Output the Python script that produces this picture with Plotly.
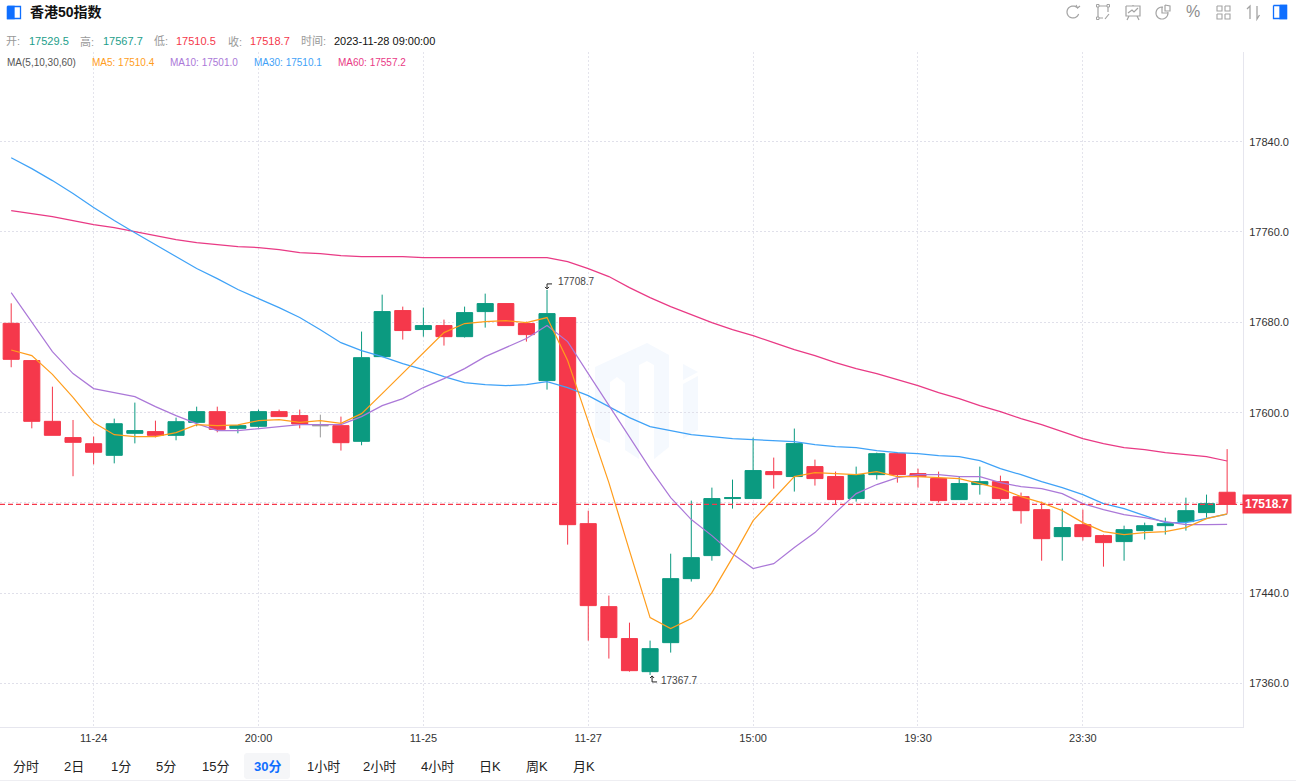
"""
Recreates the Hang Seng 50 index 30-minute candlestick chart
"""
import numpy as np
import plotly.graph_objects as go

W, H = 1296, 781
PLOT_L, PLOT_R, PLOT_T, PLOT_B = 0, 1243, 52, 727

opens = [17679.1, 17646.1, 17592.3, 17577.9, 17572.5, 17562.2, 17581.7, 17583.2, 17579.9, 17591.4,
         17600.9, 17586.1, 17587.9, 17600.9, 17597.4, 17588.5, 17588.5, 17574.6, 17649.6, 17690.4,
         17673.6, 17677.1, 17667.3, 17689.5, 17696.6, 17678.9, 17628.4, 17684.2, 17501.7, 17428.2,
         17399.9, 17370.6, 17396.3, 17453.0, 17473.4, 17523.9, 17523.9, 17547.8, 17543.4, 17552.2,
         17543.4, 17523.9, 17545.1, 17563.7, 17546.0, 17541.6, 17523.0, 17536.3, 17538.9, 17525.6,
         17514.1, 17490.2, 17500.8, 17491.1, 17485.8, 17495.5, 17499.9, 17503.5, 17511.5, 17529.5]
highs = [17696.8, 17646.1, 17623.0, 17593.5, 17578.8, 17594.7, 17608.9, 17592.9, 17595.6, 17605.3,
         17605.3, 17588.5, 17602.7, 17602.7, 17602.7, 17598.2, 17596.5, 17671.8, 17704.5, 17693.9,
         17693.0, 17682.4, 17693.9, 17705.4, 17696.6, 17680.6, 17708.7, 17684.2, 17513.2, 17438.0,
         17414.0, 17398.1, 17475.1, 17522.1, 17533.6, 17540.7, 17577.9, 17560.2, 17585.9, 17558.4,
         17547.8, 17552.2, 17564.6, 17564.6, 17550.4, 17547.8, 17543.4, 17552.2, 17544.2, 17529.2,
         17521.2, 17515.0, 17514.1, 17492.0, 17499.9, 17502.6, 17507.0, 17524.7, 17527.4, 17567.7]
lows = [17640.2, 17586.1, 17579.9, 17543.7, 17554.2, 17555.1, 17572.8, 17578.1, 17575.5, 17587.9,
        17582.6, 17581.7, 17586.7, 17596.5, 17586.1, 17578.1, 17566.4, 17571.1, 17649.6, 17664.7,
        17667.3, 17659.4, 17666.5, 17675.3, 17677.1, 17662.9, 17620.4, 17483.1, 17398.1, 17382.2,
        17370.6, 17367.7, 17387.5, 17450.4, 17468.9, 17515.0, 17523.9, 17532.7, 17530.1, 17535.4,
        17518.6, 17521.2, 17540.7, 17538.0, 17533.6, 17520.3, 17523.0, 17527.4, 17522.1, 17501.7,
        17468.9, 17468.9, 17486.7, 17463.6, 17468.9, 17487.6, 17492.0, 17495.5, 17507.0, 17510.5]
closes = [17647.2, 17592.3, 17579.9, 17573.7, 17564.9, 17590.2, 17584.1, 17579.9, 17592.0, 17600.9,
          17585.2, 17588.5, 17600.9, 17596.5, 17590.0, 17588.5, 17573.4, 17648.7, 17689.5, 17672.7,
          17677.1, 17667.3, 17688.6, 17696.6, 17677.1, 17669.1, 17687.7, 17500.8, 17429.1, 17400.8,
          17371.5, 17391.0, 17453.0, 17471.6, 17523.9, 17524.7, 17548.7, 17545.1, 17572.6, 17541.6,
          17523.0, 17545.1, 17563.7, 17545.1, 17543.4, 17522.1, 17537.2, 17538.9, 17523.9, 17513.2,
          17488.4, 17498.2, 17490.2, 17484.9, 17496.4, 17499.9, 17501.7, 17513.2, 17519.4, 17518.7]

ma5 = [17655.5, 17650.5, 17633.9, 17613.6, 17591.2, 17580.5, 17578.8, 17578.8, 17582.3, 17589.4,
       17588.5, 17589.1, 17592.9, 17593.8, 17591.4, 17592.9, 17590.6, 17599.1, 17616.9, 17634.6,
       17652.5, 17670.9, 17678.9, 17680.6, 17681.5, 17679.7, 17684.2, 17646.1, 17592.0, 17538.0,
       17477.8, 17418.5, 17408.7, 17417.6, 17440.6, 17471.6, 17504.4, 17523.9, 17543.4, 17546.9,
       17546.0, 17545.1, 17547.8, 17543.4, 17543.4, 17542.5, 17541.6, 17537.1, 17532.7, 17525.6,
       17520.3, 17513.2, 17502.6, 17494.6, 17492.0, 17493.8, 17494.6, 17498.2, 17506.1, 17510.4]
ma10 = [17706.3, 17679.7, 17654.0, 17634.6, 17621.3, 17617.7, 17614.2, 17605.3, 17597.4, 17590.3,
        17584.1, 17584.1, 17585.9, 17587.6, 17589.4, 17589.4, 17589.4, 17596.5, 17606.2, 17612.4,
        17622.2, 17630.1, 17639.0, 17649.6, 17657.6, 17665.6, 17677.1, 17662.9, 17634.6, 17606.2,
        17577.9, 17550.4, 17524.8, 17505.3, 17491.1, 17475.1, 17461.9, 17466.3, 17480.5, 17493.8,
        17511.5, 17528.3, 17536.3, 17542.5, 17545.1, 17545.1, 17543.4, 17543.4, 17538.0, 17534.5,
        17532.7, 17528.3, 17519.4, 17514.1, 17509.7, 17507.0, 17503.5, 17500.8, 17500.8, 17501.0]
ma30 = [17825.8, 17816.1, 17805.5, 17794.0, 17781.6, 17770.1, 17759.4, 17748.8, 17738.2, 17727.6,
        17718.7, 17709.0, 17701.0, 17693.0, 17684.2, 17673.5, 17662.0, 17654.9, 17649.6, 17643.4,
        17638.1, 17631.9, 17626.6, 17624.8, 17623.9, 17624.8, 17627.5, 17622.2, 17615.1, 17605.3,
        17595.6, 17587.6, 17584.1, 17580.5, 17578.8, 17577.0, 17576.1, 17575.2, 17574.3, 17571.7,
        17569.9, 17569.0, 17566.4, 17564.6, 17563.7, 17561.9, 17561.1, 17557.5, 17550.4, 17545.1,
        17538.9, 17533.6, 17527.4, 17519.4, 17515.0, 17508.8, 17502.6, 17502.6, 17506.1, 17510.1]
ma60 = [17778.9, 17776.3, 17773.6, 17770.1, 17766.5, 17763.9, 17760.3, 17756.8, 17753.2, 17750.6,
        17748.8, 17747.0, 17746.2, 17744.4, 17741.7, 17740.8, 17739.1, 17738.2, 17738.2, 17738.2,
        17737.3, 17737.3, 17737.3, 17737.3, 17737.3, 17737.3, 17737.3, 17733.8, 17727.6, 17720.5,
        17710.7, 17701.9, 17693.9, 17686.8, 17679.7, 17673.5, 17668.2, 17662.0, 17655.8, 17650.5,
        17644.3, 17639.0, 17634.6, 17629.2, 17623.9, 17617.7, 17612.4, 17606.2, 17600.9, 17594.7,
        17589.4, 17583.2, 17577.0, 17572.6, 17569.0, 17567.3, 17564.6, 17562.8, 17561.1, 17557.2]

price_ticks = [17360, 17440, 17520, 17600, 17680, 17760, 17840]
# the 17520 label sits under the last price tag, only its grid line shows
price_labels = ["17360.0", "17440.0", "", "17600.0", "17680.0", "17760.0", "17840.0"]
time_ticks = [4, 12, 20, 28, 36, 44, 52]
time_labels = ["11-24", "20:00", "11-25", "11-27", "15:00", "19:30", "23:30"]
periods = ["分时", "2日", "1分", "5分", "15分", "30分", "1小时", "2小时", "4小时", "日K", "周K", "月K"]
period_centers = [26, 74, 121, 166, 215, 267, 323, 380, 437, 490, 537, 584]

RED = "#F5384B"
GREEN = "#0B9A80"
GREY = "#999999"
ICON = "#A3A3A3"
BLUE = "#0F6FFF"
FONT = "Liberation Sans, Noto Sans CJK SC, sans-serif"
MA_COLORS = {"MA5": "#FF9D1C", "MA10": "#AB78D8", "MA30": "#3FA2F7", "MA60": "#E93A85"}

idx = list(range(len(opens)))
normal = [i for i in idx if opens[i] != closes[i]]
flat = [i for i in idx if opens[i] == closes[i]]

fig = go.Figure()


def pick(values, which):
    return [values[i] for i in which]


def add_candles(which, up, down):
    fig.add_trace(go.Candlestick(
        x=which,
        open=pick(opens, which),
        high=pick(highs, which),
        low=pick(lows, which),
        close=pick(closes, which),
        increasing=dict(line=dict(color=up, width=1), fillcolor=up),
        decreasing=dict(line=dict(color=down, width=1), fillcolor=down),
        whiskerwidth=0,
        showlegend=False,
    ))


add_candles(normal, GREEN, RED)
add_candles(flat, GREY, GREY)

for name, values in [("MA60", ma60), ("MA30", ma30), ("MA10", ma10), ("MA5", ma5)]:
    fig.add_trace(go.Scatter(
        x=idx, y=values, mode="lines", name=name, showlegend=False,
        line=dict(color=MA_COLORS[name], width=1.2),
    ))


def to_paper(x, y):
    return (x - PLOT_L) / (PLOT_R - PLOT_L), (PLOT_B - y) / (PLOT_B - PLOT_T)


def label(x, y, text, color="#333333", size=11, anchor="left", bold=False, bg=None):
    px, py = to_paper(x - 1 if anchor == "left" else x, y)
    fig.add_annotation(
        x=px, y=py, xref="paper", yref="paper", text=f"<b>{text}</b>" if bold else text,
        showarrow=False, xanchor=anchor, yanchor="middle", bgcolor=bg,
        font=dict(family=FONT, size=size, color=color), borderpad=0,
    )


def screen_path(segments, close=False):
    # segments: list of point lists in page pixels
    parts = []
    for seg in segments:
        cmds = [f"{x - PLOT_L} {PLOT_T - y}" for x, y in seg]
        parts.append("M " + " L ".join(cmds) + (" Z" if close else ""))
    return " ".join(parts)


def draw(segments, line=ICON, fill=None, width=1.2, close=False, layer="above"):
    fig.add_shape(
        type="path", xref="paper", yref="paper", xsizemode="pixel", ysizemode="pixel",
        xanchor=0, yanchor=1, path=screen_path(segments, close), layer=layer,
        line=dict(color=line, width=width) if line else dict(width=0),
        fillcolor=fill,
    )


def arc(cx, cy, r, a0, a1, n=24):
    t = np.radians(np.linspace(a0, a1, n))
    return [(cx + r * np.cos(a), cy - r * np.sin(a)) for a in t]


def rect(x0, y0, x1, y1):
    return [(x0, y0), (x1, y0), (x1, y1), (x0, y1), (x0, y0)]


# watermark logo behind the candles
LOGO = "#F5F9FE"
draw([[(595, 367), (647, 343), (669, 355), (669, 447), (654, 459), (654, 365), (647, 361), (639, 365),
       (639, 459), (625, 450), (625, 383), (617, 377), (610, 382), (610, 443), (595, 437)]],
     line=None, fill=LOGO, close=True, layer="below")
draw([[(683, 364), (698, 372), (683, 380)], [(683, 384), (698, 376), (698, 430), (683, 439)]],
     line=None, fill=LOGO, close=True, layer="below")

# last price dashed line and its tag
last = closes[-1]
fig.add_shape(type="line", xref="paper", x0=0, x1=1, yref="y", y0=last, y1=last,
              line=dict(color=RED, width=1.2, dash="5px,3px"))
fig.add_annotation(
    x=1, xref="paper", y=last, yref="y", text=f"<b>{last}</b>", showarrow=False,
    xanchor="left", yanchor="middle", align="center", bgcolor=RED, borderpad=2, xshift=-1,
    font=dict(family=FONT, size=12, color="white"),
)

# highest / lowest markers
hi_i = int(np.argmax(highs))
lo_i = int(np.argmin(lows))
fig.add_annotation(x=hi_i, y=highs[hi_i], text=str(highs[hi_i]), showarrow=False, xanchor="left",
                   yanchor="middle", xshift=9, yshift=8,
                   font=dict(family=FONT, size=10, color="#444444"))
fig.add_annotation(x=lo_i, y=lows[lo_i], text=str(lows[lo_i]), showarrow=False, xanchor="left",
                   yanchor="middle", xshift=9, yshift=-6,
                   font=dict(family=FONT, size=10, color="#444444"))
fig.add_shape(type="path", xref="x", yref="y", xsizemode="pixel", ysizemode="pixel",
              xanchor=hi_i, yanchor=highs[hi_i], path="M 5 6 L 0 6 L 0 1 M -2 3 L 0 1 L 2 3",
              line=dict(color="#222222", width=1))
fig.add_shape(type="path", xref="x", yref="y", xsizemode="pixel", ysizemode="pixel",
              xanchor=lo_i, yanchor=lows[lo_i], path="M 7 -7 L 2 -7 L 2 -1 M 0 -3 L 2 -1 L 4 -3",
              line=dict(color="#222222", width=1))

# header
draw([rect(7.5, 6.5, 20.5, 18.5)], line=BLUE, fill="white", width=1.3)
draw([rect(7.5, 6.5, 14, 18.5)], line=BLUE, fill=BLUE, width=1.3)
label(30, 12, "香港50指数", color="#111111", size=14, bold=True)
for x, text, color in [
    (6, "开:", GREY), (29, f"{opens[-1]}", "#1D9E8A"), (80, "高:", GREY), (103, f"{highs[-1]}", "#1D9E8A"),
    (154, "低:", GREY), (176, f"{lows[-1]}", RED), (228, "收:", GREY), (250, f"{last}", RED),
    (301, "时间:", GREY), (334, "2023-11-28 09:00:00", "#111111"),
]:
    label(x, 41, text, color=color)

label(7, 62.5, "MA(5,10,30,60)", color="#555555", size=10)
for x, name, values in [(92, "MA5", ma5), (170, "MA10", ma10), (254, "MA30", ma30), (338, "MA60", ma60)]:
    label(x, 62.5, f"{name}: {values[-1]}", color=MA_COLORS[name], size=10)

# toolbar icons, top right
draw([arc(1073, 12, 6, 50, 340)], width=1.2)
draw([[(1076, 5), (1077.5, 8), (1080, 6)]], width=1.2)
draw([[(1099, 6), (1107, 6)], [(1098, 7), (1098, 17)], [(1099, 18), (1103, 18)], [(1108, 7), (1108, 12)],
      [(1105, 19), (1109, 14)]], width=1.2)
draw([rect(1096.5, 4.5, 1099, 7), rect(1107, 4.5, 1109.5, 7), rect(1096.5, 17, 1099, 19.5)], width=1)
draw([rect(1126, 6, 1140, 16), [(1133, 5), (1133, 6)], [(1129, 16), (1127, 20)], [(1137, 16), (1139, 20)],
      [(1128, 13), (1132, 10), (1134, 12), (1138, 8)]], width=1.2)
draw([arc(1162, 13, 6, 80, 370), [(1162, 7), (1162, 13), (1168, 13)], [(1165, 5), (1170, 6), (1170, 11), (1165, 11), (1165, 5)]], width=1.2)
label(1193, 12, "%", color="#8C8C8C", size=16, anchor="center")
draw([rect(1217, 6, 1222, 11), rect(1225, 6, 1230, 11), rect(1217, 14, 1222, 19), rect(1225, 14, 1230, 19)], width=1.1)
draw([[(1250, 19), (1250, 6), (1247, 9)], [(1257, 6), (1257, 19), (1259.5, 15)]], width=1.3)
draw([rect(1273.5, 5.5, 1286.5, 18.5)], line=BLUE, fill="white", width=1.3)
draw([rect(1280, 5.5, 1286.5, 18.5)], line=BLUE, fill=BLUE, width=1.3)

# period selector along the bottom
draw([[(246, 753), (288, 753), (290, 755), (290, 777), (288, 779), (246, 779), (244, 777), (244, 755)]],
     line=None, fill="#F5F6F8", close=True)
draw([[(0, 780.5), (1296, 780.5)]], line="#EEEEF2", width=1)
for text, cx in zip(periods, period_centers):
    active = text == "30分"
    label(cx, 766, text, color=BLUE if active else "#222222", size=13, anchor="center", bold=active)

fig.update_layout(
    width=W, height=H, autosize=False,
    margin=dict(l=PLOT_L, r=W - PLOT_R, t=PLOT_T, b=H - PLOT_B, pad=0),
    plot_bgcolor="white", paper_bgcolor="white",
    boxgap=0.22, boxgroupgap=0, dragmode=False, showlegend=False,
    font=dict(family=FONT, size=11, color="#333333"),
    xaxis=dict(
        range=[-0.543, 59.77], rangeslider=dict(visible=False),
        tickmode="array", tickvals=time_ticks, ticktext=time_labels,
        showgrid=True, gridcolor="#E4E4EC", griddash="2px,2px", gridwidth=1, zeroline=False,
        showline=True, linecolor="#E6E6EE", linewidth=1, ticks="", ticklabelstandoff=1,
        tickfont=dict(family=FONT, size=11, color="#333333"),
    ),
    yaxis=dict(
        range=[17321.6, 17919.4], side="right",
        tickmode="array", tickvals=price_ticks, ticktext=price_labels,
        showgrid=True, gridcolor="#E0E0EA", griddash="2px,2px", gridwidth=1, zeroline=False,
        showline=True, linecolor="#E6E6EE", linewidth=1, ticks="", ticklabelstandoff=3,
        tickfont=dict(family=FONT, size=11, color="#333333"),
    ),
)

fig.write_html("out.html", config=dict(displayModeBar=False),
               post_script="document.body.style.margin='0';")
